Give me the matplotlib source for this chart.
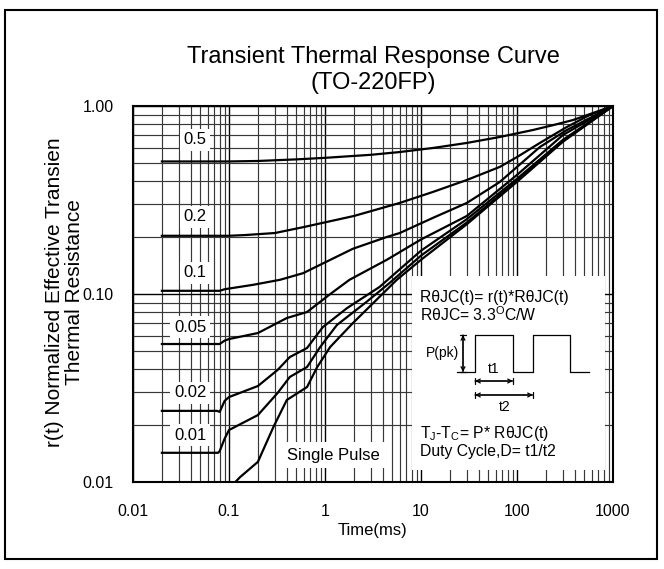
import matplotlib
matplotlib.use('Agg')
import matplotlib.pyplot as plt
from matplotlib.ticker import LogLocator, NullFormatter
from matplotlib.patches import Rectangle

plt.rcParams['font.family'] = ['Liberation Sans', 'DejaVu Sans']
plt.rcParams['mathtext.fontset'] = 'custom'
plt.rcParams['mathtext.rm'] = 'Liberation Sans'

# duty cycle curves (t in ms, r(t))
t_05 = [0.02, 0.1, 0.2, 0.5, 1, 3, 6, 13.3, 30, 66, 146, 240, 383, 620, 1000]
r_05 = [0.507, 0.507, 0.51, 0.52, 0.53, 0.55, 0.569, 0.598, 0.636, 0.684, 0.745, 0.792, 0.842, 0.918, 1.0]

t_02 = [0.02, 0.1, 0.15, 0.3, 0.6, 2, 6, 13.3, 30, 66, 100, 173, 330, 570, 1000]
r_02 = [0.204, 0.204, 0.206, 0.211, 0.227, 0.26, 0.305, 0.349, 0.404, 0.474, 0.535, 0.636, 0.773, 0.895, 1.0]

t_01 = [0.02, 0.08, 0.09, 0.18, 0.34, 0.59, 1.95, 4.4, 6, 13.3, 30, 66, 100, 173, 330, 1000]
r_01 = [0.104, 0.104, 0.106, 0.112, 0.119, 0.129, 0.174, 0.201, 0.211, 0.254, 0.305, 0.394, 0.474, 0.605, 0.745, 1.0]

t_005 = [0.02, 0.08, 0.09, 0.1, 0.2, 0.4, 0.65, 1.1, 1.8, 4.4, 10, 30, 100, 300, 1000]
r_005 = [0.0542, 0.0542, 0.0565, 0.0576, 0.062, 0.0745, 0.0802, 0.0988, 0.119, 0.152, 0.195, 0.26, 0.43, 0.70, 1.0]

t_002 = [0.02, 0.075, 0.08, 0.09, 0.1, 0.2, 0.32, 0.43, 0.65, 0.95, 1.7, 3.7, 10, 30, 100, 300, 1000]
r_002 = [0.0239, 0.0239, 0.0236, 0.027, 0.0283, 0.0324, 0.0394, 0.0462, 0.0516, 0.0667, 0.0842, 0.109, 0.17, 0.25, 0.41, 0.66, 1.0]

t_001 = [0.02, 0.077, 0.08, 0.09, 0.1, 0.2, 0.32, 0.43, 0.65, 0.89, 1.33, 2.7, 4.7, 10, 30, 100, 300, 1000]
r_001 = [0.0143, 0.0143, 0.0146, 0.017, 0.0189, 0.0227, 0.0297, 0.0362, 0.0409, 0.0522, 0.0684, 0.0907, 0.1144, 0.16, 0.24, 0.40, 0.65, 1.0]

t_sp = [0.11, 0.13, 0.2, 0.29, 0.4, 0.65, 0.83, 1.13, 1.95, 5.6, 10, 30, 100, 300, 1000]
r_sp = [0.0097, 0.0106, 0.0128, 0.0196, 0.0273, 0.032, 0.0409, 0.0522, 0.07, 0.119, 0.152, 0.235, 0.395, 0.645, 1.0]

curvas = [(t_05, r_05), (t_02, r_02), (t_01, r_01), (t_005, r_005),
          (t_002, r_002), (t_001, r_001), (t_sp, r_sp)]

# labels of the curves and where they sit (axes fraction)
rotulos = ['0.5', '0.2', '0.1', '0.05', '0.02', '0.01']
rot_x = [0.129, 0.129, 0.129, 0.119, 0.119, 0.119]
rot_y = [0.910, 0.705, 0.556, 0.412, 0.237, 0.125]

xticks = [0.01, 0.1, 1, 10, 100, 1000]
xtick_labels = ['0.01', '0.1', '1', '10', '100', '1000']
yticks = [0.01, 0.1, 1.0]
ytick_labels = ['0.01', '0.10', '1.00']

fig = plt.figure(figsize=(6.64, 5.69), dpi=100)
ax = fig.add_axes([133/664, 1 - 482/569, 480/664, 376/569])

for t, r in curvas:
    ax.plot(t, r, color='black', lw=1.6, zorder=4)

ax.set_xscale('log')
ax.set_yscale('log')
ax.set_xlim(0.01, 1000)
ax.set_ylim(0.01, 1.0)
ax.set_xticks(xticks)
ax.set_xticklabels(xtick_labels)
ax.set_yticks(yticks)
ax.set_yticklabels(ytick_labels)
ax.xaxis.set_minor_locator(LogLocator(base=10, subs=range(2, 10)))
ax.yaxis.set_minor_locator(LogLocator(base=10, subs=range(2, 10)))
ax.xaxis.set_minor_formatter(NullFormatter())
ax.yaxis.set_minor_formatter(NullFormatter())
ax.tick_params(which='both', length=0, labelsize=11.5)
ax.tick_params(axis='x', pad=16)
ax.tick_params(axis='y', pad=14)
ax.grid(which='major', color='black', lw=1.0)
ax.grid(which='minor', color='#383838', lw=0.85)
ax.set_axisbelow(True)
for s in ax.spines.values():
    s.set_linewidth(1.5)

ax.set_xlabel('Time(ms)', fontsize=12, labelpad=3)
fig.text(55/664, 1 - 292/569, 'r(t) Normalized Effective Transien', rotation=90,
         ha='center', va='center', fontsize=15)
fig.text(75/664, 1 - 292/569, 'Thermal Resistance', rotation=90,
         ha='center', va='center', fontsize=15)

fig.text(373/664, 1 - 57/569, 'Transient Thermal Response Curve',
         ha='center', va='center', fontsize=17)
fig.text(373/664, 1 - 83/569, '(TO-220FP)', ha='center', va='center', fontsize=17)

caixa = dict(facecolor='white', edgecolor='none', pad=2.5)
for txt, x, y in zip(rotulos, rot_x, rot_y):
    ax.text(x, y, txt, transform=ax.transAxes, ha='center', va='center',
            fontsize=12, bbox=caixa, zorder=5)
ax.text(0.4167, 0.0718, 'Single Pulse', transform=ax.transAxes, ha='center',
        va='center', fontsize=12, bbox=dict(facecolor='white', edgecolor='none', pad=4), zorder=5)

# caixa de anotacao
ax.add_patch(Rectangle((0.581, 0.032), 0.402, 0.516, transform=ax.transAxes,
                       facecolor='white', edgecolor='none', zorder=3))
ax.text(0.598, 0.492, 'R\u03b8JC(t)= r(t)*R\u03b8JC(t)', transform=ax.transAxes,
        fontsize=11.3, va='center', zorder=5)
ax.text(0.598, 0.444, 'R\u03b8JC= 3.3$^{\\mathrm{O}}$C/W', transform=ax.transAxes,
        fontsize=11.3, va='center', zorder=5)
ax.text(0.598, 0.130, 'T$_{\\mathrm{J}}$-T$_{\\mathrm{C}}$= P* R\u03b8JC(t)',
        transform=ax.transAxes, fontsize=11.3, va='center', zorder=5)
ax.text(0.598, 0.080, 'Duty Cycle,D= t1/t2', transform=ax.transAxes,
        fontsize=11.3, va='center', zorder=5)

# pulso
y0, y1 = 0.2926, 0.391
px = [0.675, 0.7125, 0.7125, 0.7917, 0.7917, 0.8333, 0.8333, 0.9104, 0.9104, 0.95]
py = [y0, y0, y1, y1, y0, y0, y1, y1, y0, y0]
ax.plot(px, py, color='black', lw=0.9, transform=ax.transAxes, zorder=5, clip_on=False)
seta = dict(arrowstyle='<->', color='black', lw=0.9, shrinkA=0, shrinkB=0,
            mutation_scale=7)
barra = dict(arrowstyle='|-|', color='black', lw=0.9, shrinkA=0, shrinkB=0,
             mutation_scale=2.5)
for st in (seta, barra):
    ax.annotate('', xy=(0.6875, y1), xytext=(0.6875, y0), xycoords='axes fraction',
                arrowprops=st, zorder=5)
    ax.annotate('', xy=(0.7917, 0.2686), xytext=(0.7125, 0.2686), xycoords='axes fraction',
                arrowprops=st, zorder=5)
    ax.annotate('', xy=(0.8333, 0.2314), xytext=(0.7125, 0.2314), xycoords='axes fraction',
                arrowprops=st, zorder=5)
ax.text(0.644, 0.343, 'P(pk)', transform=ax.transAxes, fontsize=10,
        ha='center', va='center', zorder=5)
ax.text(0.752, 0.300, 't1', transform=ax.transAxes, fontsize=10,
        ha='center', va='center', zorder=5)
ax.text(0.775, 0.200, 't2', transform=ax.transAxes, fontsize=10,
        ha='center', va='center', zorder=5)

# moldura externa
fig.patches.append(Rectangle((5/664, 1 - 559/569), 652/664, 549/569,
                             transform=fig.transFigure, fill=False,
                             edgecolor='black', lw=1.5))

fig.savefig('out.png', dpi=100)
